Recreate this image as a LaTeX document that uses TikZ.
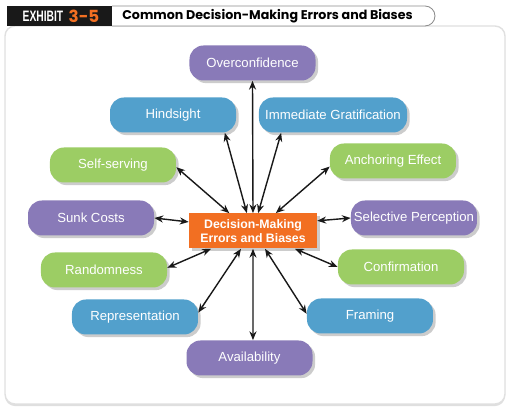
\documentclass[tikz,border=0pt]{standalone}
\usepackage{fontspec}
\setmainfont{Liberation Sans}
\newfontfamily\headfont{Poppins}
\usetikzlibrary{arrows.meta,shadows}

\definecolor{biaspurple}{RGB}{137,122,184}
\definecolor{biasblue}{RGB}{82,160,204}
\definecolor{biasgreen}{RGB}{156,205,100}
\definecolor{biasorange}{RGB}{242,111,34}

\begin{document}
\begin{tikzpicture}
        \useasboundingbox (0,0) rectangle (10.38,8.40);

        % panel and header
        \path [fill=white, draw=black!12, line width=0.8pt, rounded corners=0.2cm,
               drop shadow={shadow xshift=0pt, shadow yshift=-1.2pt, opacity=0.25}]
            (0.10,0.32) rectangle (10.10,7.88);
        \draw [fill=white, draw=black!45, line width=0.5pt, rounded corners=0.2cm]
            (2.24,8.28) -- (8.70,8.28) -- (8.70,7.88) -- (2.24,7.88);
        \fill [black!90] (0.14,7.88) rectangle (2.24,8.28);
        \node [text=white, font=\bfseries\fontsize{8.6}{8.6}\selectfont] (ex) at (0.86,8.08) {\scalebox{0.68}[1]{EXHIBIT}};
        \node [text=biasorange, font=\headfont\bfseries\fontsize{9.5}{9.5}\selectfont] (num) at (1.68,8.08) {3-5};
        \node [anchor=west, inner sep=0pt, font=\headfont\bfseries\fontsize{7.2}{7.2}\selectfont] (title) at (2.44,8.08) {Common Decision-Making Errors and Biases};

        \begin{scope}[every node/.style={rounded corners=0.28cm, minimum width=2.52cm, minimum height=0.70cm,
                      inner sep=0pt, text=white, font=\fontsize{7.5}{9}\selectfont,
                      drop shadow={shadow xshift=1.5pt, shadow yshift=-1.5pt, opacity=0.4}}]
            \node [fill=biaspurple] (OC) at (5.05,7.14) {Overconfidence};
            \node [fill=biasblue]   (HS) at (3.46,6.10) {Hindsight};
            \node [fill=biasblue, minimum width=2.96cm] (IG) at (6.66,6.10) {Immediate Gratification};
            \node [fill=biasgreen]  (SS) at (2.26,5.10) {Self-serving};
            \node [fill=biasgreen]  (AE) at (7.86,5.18) {Anchoring Effect};
            \node [fill=biaspurple] (SC) at (1.82,4.04) {Sunk Costs};
            \node [fill=biaspurple] (SP) at (8.28,4.04) {Selective Perception};
            \node [fill=biasgreen]  (RA) at (2.08,3.00) {Randomness};
            \node [fill=biasgreen]  (CO) at (8.02,3.06) {Confirmation};
            \node [fill=biasblue]   (RE) at (2.70,2.06) {Representation};
            \node [fill=biasblue]   (FR) at (7.40,2.08) {Framing};
            \node [fill=biaspurple] (AV) at (4.99,1.24) {Availability};
            \node [fill=biasorange, rounded corners=0pt, minimum width=2.56cm, align=center,
                   font=\bfseries\fontsize{7}{8}\selectfont] (DM) at (5.06,3.78) {Decision-Making\\Errors and Biases};
        \end{scope}

        \begin{scope}[>={Stealth[length=5pt,width=4pt]},
                    every edge/.style={draw=black!90, line width=0.8pt}]
            \path [<->] (DM.north) edge (OC.south);
            \path [<->] (DM.109)   edge (HS.-19);
            \path [<->] (DM.74)    edge (IG.-161);
            \path [<->] (DM.38)    edge (AE.-175);
            \path [<->] (DM.143)   edge (SS.-2);
            \path [<->] (DM.9)     edge (SP.180);
            \path [<->] (DM.172)   edge (SC.0);
            \path [<->] (DM.-157)  edge (RA.2);
            \path [<->] (DM.-124)  edge (RE.4);
            \path [<->] (DM.south) edge (AV.79);
            \path [<->] (DM.-56)   edge (FR.178);
            \path [<->] (DM.-23)   edge (CO.180);
        \end{scope}
    \end{tikzpicture}
\end{document}
